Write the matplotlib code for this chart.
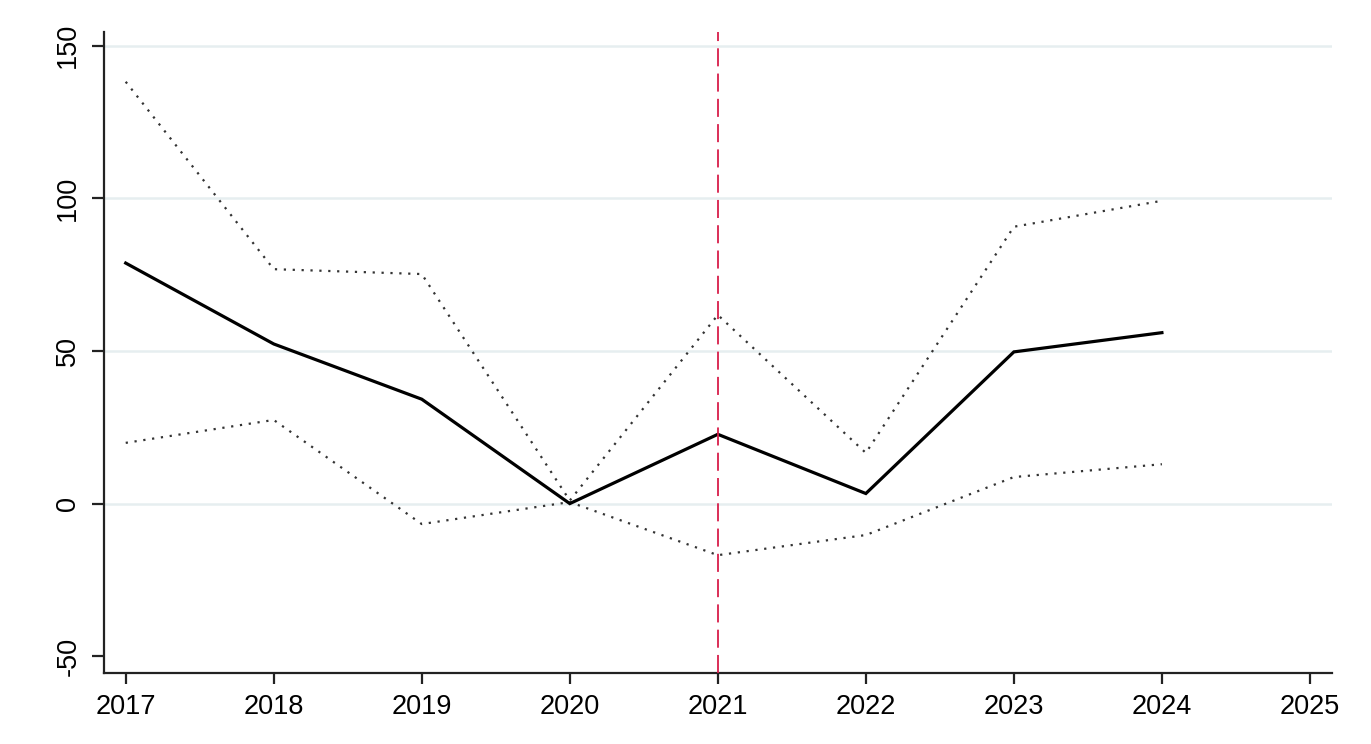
import matplotlib
matplotlib.use("Agg")
import matplotlib.pyplot as plt

plt.rcParams['font.family'] = ['Liberation Sans', 'DejaVu Sans']

years = [2017, 2018, 2019, 2020, 2021, 2022, 2023, 2024]
estimate = [78.8, 52.3, 34.2, 0.0, 22.7, 3.3, 49.7, 56.0]
upper_ci = [138.2, 76.8, 75.2, 1.0, 61.8, 16.6, 90.7, 99.2]
lower_ci = [19.9, 27.4, -6.7, 0.5, -16.9, -10.3, 8.7, 12.9]

event_year = 2021
x_ticks = [2017, 2018, 2019, 2020, 2021, 2022, 2023, 2024, 2025]
y_ticks = [-50, 0, 50, 100, 150]

fig = plt.figure(figsize=(13.71, 7.44), dpi=100)
ax = fig.add_axes([103.5 / 1371, 1 - 672.7 / 744, (1331.7 - 103.5) / 1371, (672.7 - 32) / 744])

for yv in y_ticks:
    if yv != -50:
        ax.axhline(yv, color='#e6eef0', lw=1.8, zorder=0)

ax.plot(years, upper_ci, color='#333333', lw=1.6, linestyle=(0, (1, 3.0)), zorder=2)
ax.plot(years, lower_ci, color='#333333', lw=1.6, linestyle=(0, (1, 3.0)), zorder=2)
ax.plot(years, estimate, color='black', lw=2.3, zorder=3, solid_joinstyle='miter')
ax.axvline(event_year, color='#d81e4a', lw=1.3, linestyle=(0, (10, 4)), zorder=4)

ax.set_xlim(2016.85, 2025.147)
ax.set_ylim(-55.4, 154.5)
ax.set_xticks(x_ticks)
ax.set_yticks(y_ticks)
ax.set_xticklabels([str(v) for v in x_ticks])
ax.set_yticklabels([str(v) for v in y_ticks], rotation=90, va='center')

for side in ['top', 'right']:
    ax.spines[side].set_visible(False)
for side in ['left', 'bottom']:
    ax.spines[side].set_linewidth(1.6)
    ax.spines[side].set_color('#222222')

ax.tick_params(axis='y', length=9, width=1.6, pad=7, labelsize=19.5, color='#222222')
ax.tick_params(axis='x', length=8, width=1.6, pad=7, labelsize=19.5, color='#222222')

fig.savefig('out.png', dpi=100, facecolor='white')
